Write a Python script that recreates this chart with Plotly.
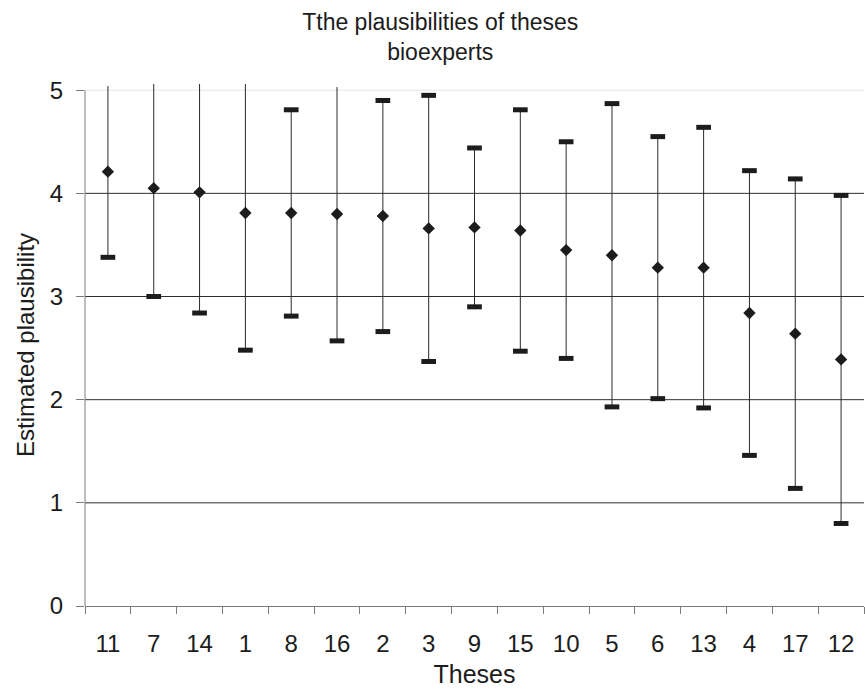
import plotly.graph_objects as go

# Theses, ordered by mean estimated plausibility
theses = ["11", "7", "14", "1", "8", "16", "2", "3", "9", "15",
          "10", "5", "6", "13", "4", "17", "12"]
mean_plaus = [4.21, 4.05, 4.01, 3.81, 3.81, 3.80, 3.78, 3.66, 3.67, 3.64,
              3.45, 3.40, 3.28, 3.28, 2.84, 2.64, 2.39]
sd_plaus = [0.83, 1.05, 1.17, 1.33, 1.00, 1.23, 1.12, 1.29, 0.77, 1.17,
            1.05, 1.47, 1.27, 1.36, 1.38, 1.50, 1.59]
y_ticks = [0, 1, 2, 3, 4, 5]
Y_MAX = 5

upper = [m + s for m, s in zip(mean_plaus, sd_plaus)]
lower = [m - s for m, s in zip(mean_plaus, sd_plaus)]
# dash markers are only shown when they fall inside the value axis
upper_shown = [v if v <= Y_MAX else None for v in upper]
lower_shown = [v if v >= 0 else None for v in lower]

FONT = "Liberation Sans, Arial, sans-serif"
INK = "#1c1c1c"

fig = go.Figure()

# vertical spread lines (mean +/- sd)
fig.add_trace(go.Scatter(
    x=theses, y=mean_plaus, mode="markers",
    marker=dict(size=1, color="rgba(0,0,0,0)"),
    error_y=dict(type="data", array=sd_plaus, symmetric=True,
                 thickness=1, width=0, color="#2a2a2a"),
    showlegend=False, hoverinfo="skip"))

# high / low dash markers
for vals in (upper_shown, lower_shown):
    fig.add_trace(go.Scatter(
        x=theses, y=vals, mode="markers",
        marker=dict(symbol="line-ew", size=10.5,
                    line=dict(width=5, color=INK)),
        showlegend=False))

# mean markers
fig.add_trace(go.Scatter(
    x=theses, y=mean_plaus, mode="markers",
    marker=dict(symbol="diamond", size=9.5, color=INK,
                line=dict(width=0)),
    showlegend=False))

# horizontal gridlines and left axis line
shapes = []
for v in y_ticks[1:]:
    shapes.append(dict(type="line", xref="paper", x0=0, x1=1, yref="y",
                       y0=v, y1=v, layer="below",
                       line=dict(color="#e4e4e4" if v == Y_MAX else "#2e2e2e",
                                 width=1)))
shapes.append(dict(type="line", xref="paper", x0=0, x1=0, yref="y",
                   y0=0, y1=Y_MAX, layer="above",
                   line=dict(color="#7a7a7a", width=1)))

fig.update_layout(
    width=865, height=693,
    margin=dict(l=85, r=1, t=84, b=87),
    paper_bgcolor="white", plot_bgcolor="white",
    font=dict(family=FONT, color=INK, size=24),
    title=dict(text="Tthe plausibilities of theses<br>bioexperts",
               x=0.509, xanchor="center", y=0.956, yanchor="top",
               yref="container", font=dict(size=23, color=INK)),
    shapes=shapes,
    showlegend=False,
)

fig.update_xaxes(
    type="category", range=[-0.5, 16.5],
    tickson="boundaries", ticks="outside", ticklen=7, tickcolor="#7a7a7a",
    showline=True, linecolor="#7a7a7a", linewidth=1,
    showgrid=False, zeroline=False,
    tickfont=dict(size=24, color=INK), ticklabelstandoff=16,
    title=dict(text="Theses", font=dict(size=25, color=INK), standoff=9),
)

fig.update_yaxes(
    range=[0, 5.06], tickvals=y_ticks, ticktext=[str(v) for v in y_ticks],
    ticks="outside", ticklen=8, tickcolor="#7a7a7a",
    showline=False, showgrid=False, zeroline=False,
    tickfont=dict(size=24, color=INK), ticklabelstandoff=8,
    title=dict(text="Estimated plausibility",
               font=dict(size=24, color=INK), standoff=8),
)

fig.write_html("out.html")
